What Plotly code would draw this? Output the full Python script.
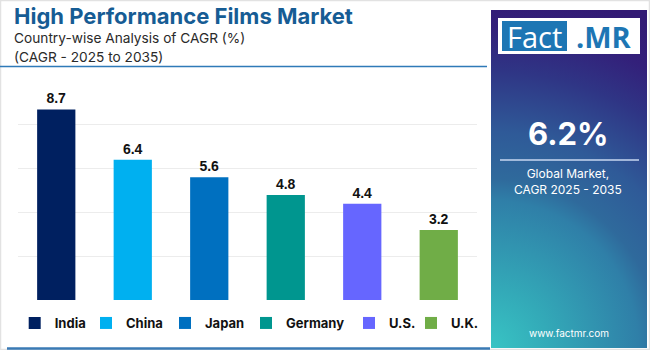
import base64
import plotly.graph_objects as go

# ---------------- data ----------------
countries = ["India", "China", "Japan", "Germany", "U.S.", "U.K."]
cagr = [8.7, 6.4, 5.6, 4.8, 4.4, 3.2]
bar_colors = ["#002060", "#00B0F0", "#0070C0", "#00968F", "#6666FF", "#70AD47"]
y_ticks = [0, 2, 4, 6, 8, 10]

title = "High Performance Films Market"
subtitle1 = "Country-wise Analysis of CAGR (%)"
subtitle2 = "(CAGR - 2025 to 2035)"
global_cagr = "6.2%"
global_label = "Global Market,<br>CAGR 2025 - 2035"
website = "www.factmr.com"
logo_left = "Fact"
logo_right = ".MR"

# ---------------- geometry helpers (pixel -> paper) ----------------
W, H = 650, 350
PL, PR, PT, PB = 18, 477, 81, 300


def X(px):
    return (px - PL) / (PR - PL)


def Y(py):
    return (PB - py) / (PB - PT)


# legend entry text start positions (px), one legend box per entry
legend_text_px = [51.7, 123, 202, 283, 386, 448]
legend_ids = ["legend"] + [f"legend{i}" for i in range(2, len(countries) + 1)]

fig = go.Figure()
for name, val, col, lid in zip(countries, cagr, bar_colors, legend_ids):
    fig.add_trace(go.Bar(
        x=[name], y=[val], name=name, legend=lid,
        marker=dict(color=col, line=dict(width=0)),
        texttemplate="%{y:.1f}", textposition="outside",
        textfont=dict(family="Arial", size=14, color="#111111", weight="bold"),
        cliponaxis=False,
        hoverinfo="skip",
    ))

# gradient panel as svg image
pw, ph = 156, 338
svg = (
    f'<svg xmlns="http://www.w3.org/2000/svg" width="{pw}" height="{ph}" viewBox="0 0 {pw} {ph}" preserveAspectRatio="none">'
    f'<defs><radialGradient id="g" gradientUnits="userSpaceOnUse" cx="0" cy="{ph}" r="360">'
    '<stop offset="0" stop-color="#38c4c4"/>'
    '<stop offset="0.16" stop-color="#33aab8"/>'
    '<stop offset="0.41" stop-color="#2f7fa8"/>'
    '<stop offset="0.47" stop-color="#2f6a9c"/>'
    '<stop offset="0.60" stop-color="#2f5a98"/>'
    '<stop offset="0.77" stop-color="#2f3585"/>'
    '<stop offset="0.89" stop-color="#33207a"/>'
    '<stop offset="1" stop-color="#321a74"/>'
    '</radialGradient></defs>'
    f'<rect x="0" y="0" width="{pw}" height="{ph}" fill="url(#g)"/></svg>'
)
src = "data:image/svg+xml;base64," + base64.b64encode(svg.encode()).decode()
fig.add_layout_image(dict(
    source=src, xref="paper", yref="paper",
    x=X(491), y=Y(10), sizex=X(647) - X(491), sizey=Y(10) - Y(348),
    xanchor="left", yanchor="top", sizing="stretch", layer="below",
))

shapes = [
    dict(type="rect", x0=X(0.5), x1=X(649.5), y0=Y(0.5), y1=Y(349.5),
         line=dict(color="#e2e2e2", width=1.5), fillcolor="rgba(0,0,0,0)"),
    dict(type="line", x0=X(0), x1=X(487), y0=Y(66.5), y1=Y(66.5),
         line=dict(color="#2f7ab8", width=1.5)),
    dict(type="line", x0=X(7), x1=X(490), y0=Y(348.5), y1=Y(348.5),
         line=dict(color="#3a7ab5", width=2.5)),
    dict(type="rect", x0=X(498), x1=X(640), y0=Y(18), y1=Y(54),
         line=dict(width=0), fillcolor="white"),
    dict(type="rect", x0=X(502), x1=X(567), y0=Y(21), y1=Y(51),
         line=dict(width=0), fillcolor="#1d76b4"),
    dict(type="line", x0=X(500), x1=X(639), y0=Y(160), y1=Y(160),
         line=dict(color="rgba(200,215,240,0.75)", width=2)),
]
for s in shapes:
    s.update(xref="paper", yref="paper")
    fig.add_shape(**s)

ann = [
    dict(text=title, x=X(12), y=Y(16), xanchor="left", yanchor="middle",
         font=dict(family="Inter", size=22, color="#165c94", weight="bold")),
    dict(text=subtitle1, x=X(12), y=Y(38), xanchor="left", yanchor="middle",
         font=dict(family="Inter", size=13.7, color="#2a2a2a")),
    dict(text=subtitle2, x=X(12), y=Y(57), xanchor="left", yanchor="middle",
         font=dict(family="Inter", size=13.7, color="#2a2a2a")),
    dict(text=logo_left, x=X(534.5), y=Y(36), xanchor="center", yanchor="middle",
         font=dict(family="Open Sans", size=29, color="white")),
    dict(text=logo_right, x=X(604), y=Y(36), xanchor="center", yanchor="middle",
         font=dict(family="Open Sans", size=29, color="#1d76b4", weight="bold")),
    dict(text=global_cagr, x=X(568), y=Y(133), xanchor="center", yanchor="middle",
         font=dict(family="Inter", size=31, color="white", weight="bold")),
    dict(text=global_label, x=X(568), y=Y(181), xanchor="center", yanchor="middle",
         font=dict(family="Inter", size=12, color="white")),
    dict(text=website, x=X(569), y=Y(333), xanchor="center", yanchor="middle",
         font=dict(family="Inter", size=10, color="white")),
]
for a in ann:
    a.update(xref="paper", yref="paper", showarrow=False)
    fig.add_annotation(**a)

legend_layout = {}
for lid, tx in zip(legend_ids, legend_text_px):
    legend_layout[lid] = dict(
        orientation="h", x=X(tx - 37), y=Y(323), xanchor="left", yanchor="middle",
        font=dict(family="Inter", size=13, color="#111111", weight="bold"),
        itemclick=False, itemdoubleclick=False, bgcolor="rgba(0,0,0,0)",
    )

fig.update_layout(
    width=W, height=H,
    margin=dict(l=PL, r=W - PR, t=PT, b=H - PB, pad=0),
    paper_bgcolor="white", plot_bgcolor="white",
    barmode="overlay", bargap=0.5,
    showlegend=True,
    xaxis=dict(showticklabels=False, showgrid=False, zeroline=False, showline=False,
               categoryorder="array", categoryarray=countries, fixedrange=True),
    yaxis=dict(range=[0, 10], tickvals=y_ticks, showticklabels=False, showgrid=True,
               gridcolor="#ececec", gridwidth=1, zeroline=False, showline=False,
               fixedrange=True),
    **legend_layout,
)

fig.write_html("out.html", config={"displayModeBar": False})
